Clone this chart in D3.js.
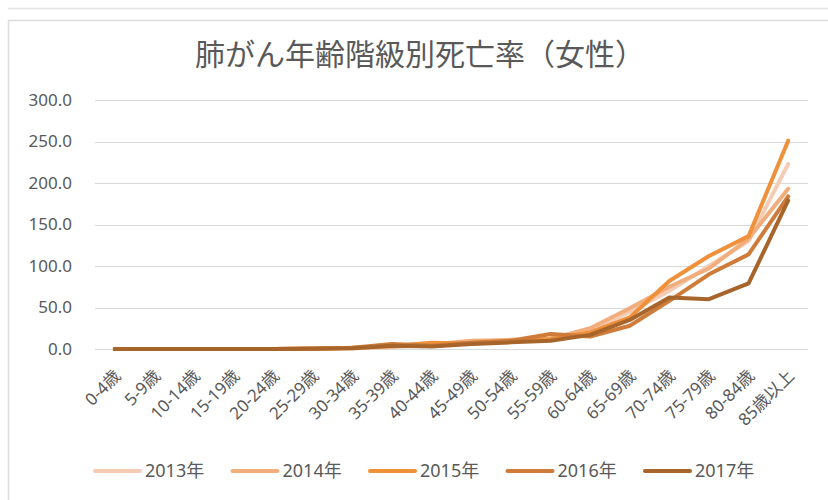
<!DOCTYPE html>
<html lang="ja">
<head>
<meta charset="utf-8">
<script src="https://cdn.jsdelivr.net/npm/d3@7"></script>
<style>
  html, body { margin: 0; padding: 0; background: #ffffff; }
  svg { display: block; }
</style>
</head>
<body>
<svg id="chart" width="828" height="500"></svg>
<script>
// 年齢階級
const ageGroups = ["0-4歳", "5-9歳", "10-14歳", "15-19歳", "20-24歳", "25-29歳", "30-34歳",
  "35-39歳", "40-44歳", "45-49歳", "50-54歳", "55-59歳", "60-64歳", "65-69歳",
  "70-74歳", "75-79歳", "80-84歳", "85歳以上"];

// 人口10万人あたりの死亡率（女性）
const rate2013 = [0, 0, 0, 0, 0, 0.3, 1.0, 2.5, 4.5, 8.5, 10, 13, 22, 45, 70, 100, 130, 223];
const rate2014 = [0, 0, 0, 0, 0, 0.5, 1.0, 3.0, 5.5, 10, 11, 12, 25, 49, 75, 97, 133, 193];
const rate2015 = [0, 0, 0, 0, 0.1, 0.3, 1.5, 3.5, 7.5, 6.5, 9, 12, 20, 38, 82, 112, 136, 251];
const rate2016 = [0, 0, 0, 0, 0, 0.5, 1.5, 6.0, 4.0, 7.5, 10, 18, 15, 28, 58, 90, 114, 184];
const rate2017 = [0, 0, 0, 0, 0, 0.3, 1.0, 4.0, 3.0, 6.0, 8, 10, 17, 35, 62, 60, 79, 179];

const seriesNames = ["2013年", "2014年", "2015年", "2016年", "2017年"];
const yTicks = [0, 50, 100, 150, 200, 250, 300];
const titleText = "肺がん年齢階級別死亡率（女性）";

const series = [rate2013, rate2014, rate2015, rate2016, rate2017].map((values, i) => ({
  name: seriesNames[i], values
}));

const colors = ["#f5cbb3", "#f2ad7c", "#ef913a", "#cf7c3a", "#a7652c"];
const textColor = "#595959";
const gridColor = "#d9d9d9";
const titleFont = "'Noto Sans CJK JP', sans-serif";
const font = "'Noto Sans', 'Noto Sans CJK JP', sans-serif";

const svg = d3.select("#chart");

// card frames
svg.append("line").attr("x1", 8).attr("x2", 828).attr("y1", 8.5).attr("y2", 8.5)
  .attr("stroke", "#e3e3e3").attr("stroke-width", 1.5);
svg.append("path").attr("d", "M8.5,500 V20.5 H828")
  .attr("fill", "none").attr("stroke", "#dcdcdc").attr("stroke-width", 1.5);

// title
svg.append("text")
  .attr("x", 420).attr("y", 65)
  .attr("text-anchor", "middle")
  .attr("font-family", titleFont).attr("font-size", 30)
  .attr("fill", textColor)
  .text(titleText);

const plot = { left: 95, right: 808, top: 100, bottom: 349 };

const x = d3.scaleBand().domain(ageGroups).range([plot.left, plot.right]);
const y = d3.scaleLinear().domain([0, 300]).range([plot.bottom, plot.top]);
const cx = d => x(d) + x.bandwidth() / 2;

// gridlines
svg.append("g").selectAll("line").data(yTicks).join("line")
  .attr("x1", plot.left).attr("x2", plot.right)
  .attr("y1", d => Math.round(y(d)) + 0.5).attr("y2", d => Math.round(y(d)) + 0.5)
  .attr("stroke", gridColor).attr("stroke-width", 1.2);

// y axis labels
svg.append("g").selectAll("text").data(yTicks).join("text")
  .attr("x", 72).attr("y", d => y(d)).attr("dy", "0.35em")
  .attr("text-anchor", "end")
  .attr("font-family", font).attr("font-size", 17)
  .attr("fill", textColor)
  .text(d => d3.format(".1f")(d));

// x axis labels
svg.append("g").selectAll("text").data(ageGroups).join("text")
  .attr("text-anchor", "end")
  .attr("transform", d => `translate(${cx(d) + 7},${plot.bottom + 28}) rotate(-45)`)
  .attr("font-family", font).attr("font-size", 17)
  .attr("fill", textColor)
  .text(d => d);

// lines
const line = d3.line()
  .x((v, i) => cx(ageGroups[i]))
  .y(v => y(v));

svg.append("g").selectAll("path").data(series).join("path")
  .attr("d", d => line(d.values))
  .attr("fill", "none")
  .attr("stroke", (d, i) => colors[i])
  .attr("stroke-width", 4)
  .attr("stroke-linejoin", "round")
  .attr("stroke-linecap", "round");

// legend
const legend = svg.append("g").selectAll("g").data(series).join("g")
  .attr("transform", (d, i) => `translate(${95 + i * 137.5},471)`);
legend.append("line")
  .attr("x1", 0).attr("x2", 45).attr("y1", 0).attr("y2", 0)
  .attr("stroke", (d, i) => colors[i]).attr("stroke-width", 4)
  .attr("stroke-linecap", "round");
legend.append("text")
  .attr("x", 50).attr("y", 0).attr("dy", "0.35em")
  .attr("font-family", font).attr("font-size", 18)
  .attr("fill", textColor)
  .text(d => d.name);
</script>
</body>
</html>
